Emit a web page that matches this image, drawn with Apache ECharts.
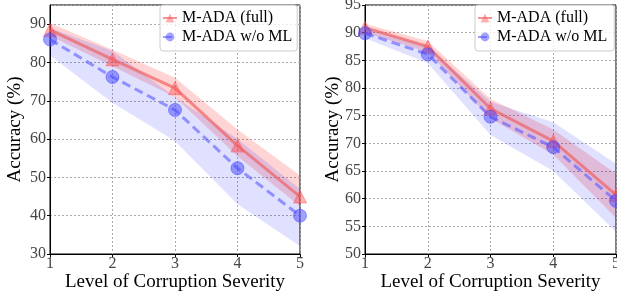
<!DOCTYPE html>
<html>
<head>
<meta charset="utf-8">
<script src="https://cdn.jsdelivr.net/npm/echarts@6/dist/echarts.min.js"></script>
<style>
html, body { margin: 0; padding: 0; background: #fff; }
#main { width: 617px; height: 296px; }
</style>
</head>
<body>
<div id="main"></div>
<script>
var levels = ['1', '2', '3', '4', '5'];

// left panel
var leftFull = [88.5, 80.8, 73.3, 58.3, 45.0];
var leftFullLow = [87.0, 79.0, 71.0, 55.5, 42.5];
var leftFullHigh = [90.3, 83.3, 76.0, 62.5, 50.5];
var leftNoML = [86.0, 76.2, 67.6, 52.4, 40.0];
var leftNoMLLow = [81.8, 69.5, 59.5, 43.0, 32.0];
var leftNoMLHigh = [89.0, 83.0, 71.0, 60.0, 47.0];

// right panel
var rightFull = [90.9, 87.5, 76.3, 70.4, 60.7];
var rightFullLow = [90.0, 86.5, 74.5, 68.0, 56.5];
var rightFullHigh = [91.6, 88.5, 78.0, 72.5, 64.5];
var rightNoML = [89.9, 86.1, 74.8, 69.3, 59.6];
var rightNoMLLow = [89.0, 84.5, 71.5, 65.0, 54.0];
var rightNoMLHigh = [91.0, 87.5, 77.5, 73.8, 66.3];

var leftTicks = { min: 30, max: 95, interval: 10, showMax: false };
var rightTicks = { min: 50, max: 95, interval: 5, showMax: true };

var serif = 'Liberation Serif';
var redLine = 'rgba(240,90,90,0.65)';
var blueLine = 'rgba(90,90,255,0.6)';
var redBand = 'rgba(255,0,0,0.17)';
var blueBand = 'rgba(0,0,255,0.12)';

function diff(hi, lo) {
    return hi.map(function (v, i) { return +(v - lo[i]).toFixed(2); });
}

function band(idx, key, lo, hi, color) {
    return [
        {
            type: 'line', xAxisIndex: idx, yAxisIndex: idx, stack: key,
            data: lo, symbol: 'none', lineStyle: { opacity: 0 }, silent: true, z: 1
        },
        {
            type: 'line', xAxisIndex: idx, yAxisIndex: idx, stack: key,
            data: diff(hi, lo), symbol: 'none', lineStyle: { opacity: 0 },
            areaStyle: { color: color, opacity: 1 }, silent: true, z: 1
        }
    ];
}

function mainLines(idx, full, noml) {
    return [
        {
            name: 'M-ADA (full)', type: 'line', xAxisIndex: idx, yAxisIndex: idx,
            data: full, symbol: 'triangle', symbolSize: 13,
            itemStyle: { color: 'rgba(255,80,80,0.45)', borderColor: 'rgba(255,80,80,0.45)' },
            lineStyle: { color: redLine, width: 3 }, z: 3
        },
        {
            name: 'M-ADA w/o ML', type: 'line', xAxisIndex: idx, yAxisIndex: idx,
            data: noml, symbol: 'circle', symbolSize: 13,
            itemStyle: { color: 'rgba(70,70,255,0.5)', borderColor: 'rgba(70,70,255,0.5)' },
            lineStyle: { color: blueLine, width: 3, type: [9, 5] }, z: 4
        }
    ];
}

function xAxis(idx) {
    return {
        gridIndex: idx, type: 'category', data: levels, boundaryGap: false,
        name: 'Level of Corruption Severity', nameLocation: 'middle', nameGap: 19,
        nameMoveOverlap: false,
        nameTextStyle: { color: '#000', fontSize: 19, fontFamily: serif },
        axisLine: { lineStyle: { color: '#000', width: 1 } },
        axisTick: { show: true, inside: false, length: 3, lineStyle: { color: '#000' } },
        axisLabel: { color: '#444', fontSize: 16, fontFamily: serif, margin: 2 },
        splitLine: { show: true, lineStyle: { color: '#aaa', type: [2, 2], width: 1 } }
    };
}

function yAxis(idx, t, gap) {
    return {
        gridIndex: idx, type: 'value', min: t.min, max: t.max, interval: t.interval,
        name: 'Accuracy (%)', nameLocation: 'middle', nameGap: gap,
        nameMoveOverlap: false,
        nameTextStyle: { color: '#000', fontSize: 19, fontFamily: serif },
        axisLine: { show: true, lineStyle: { color: '#000', width: 1 } },
        axisTick: { show: true, inside: false, length: 3, lineStyle: { color: '#000' } },
        axisLabel: { color: '#444', fontSize: 16, fontFamily: serif, margin: 4, showMaxLabel: t.showMax },
        splitLine: { show: true, lineStyle: { color: '#aaa', type: [2, 2], width: 1 } }
    };
}

function legend(left, padRight) {
    return {
        left: left, top: 5, orient: 'vertical', itemGap: 1,
        itemWidth: 14, itemHeight: 11,
        backgroundColor: 'rgba(255,255,255,0.8)', borderColor: '#ccc', borderWidth: 1,
        borderRadius: 3, padding: [4, padRight, 5, 2],
        textStyle: { color: '#000', fontSize: 16, lineHeight: 18, fontFamily: serif },
        data: ['M-ADA (full)', 'M-ADA w/o ML']
    };
}

var chart = echarts.init(document.getElementById('main'));
chart.setOption({
    animation: false,
    backgroundColor: '#fff',
    legend: [legend(160, 5), legend(475, 7)],
    grid: [
        { left: 50, top: 5, width: 250, height: 249, outerBoundsMode: 'none', show: true, borderColor: '#000', borderWidth: 1 },
        { left: 365, top: 5, width: 251, height: 249, outerBoundsMode: 'none', show: true, borderColor: '#000', borderWidth: 1 }
    ],
    xAxis: [xAxis(0), xAxis(1)],
    yAxis: [yAxis(0, leftTicks, 25), yAxis(1, rightTicks, 22)],
    series: [].concat(
        band(0, 'l1', leftFullLow, leftFullHigh, redBand),
        band(0, 'l2', leftNoMLLow, leftNoMLHigh, blueBand),
        band(1, 'r1', rightFullLow, rightFullHigh, redBand),
        band(1, 'r2', rightNoMLLow, rightNoMLHigh, blueBand),
        mainLines(0, leftFull, leftNoML),
        mainLines(1, rightFull, rightNoML)
    )
});
</script>
</body>
</html>
